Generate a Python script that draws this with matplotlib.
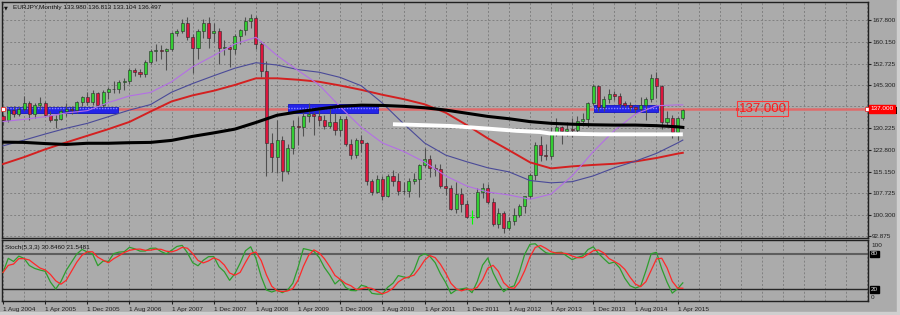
import matplotlib
matplotlib.use("Agg")
import matplotlib.pyplot as plt
import matplotlib.transforms as mtrans
from matplotlib.patches import Rectangle
import numpy as np
import pandas as pd

plt.rcParams['font.family'] = ['Liberation Sans', 'DejaVu Sans']

# ---------------- data ----------------
symbol = "EURJPY,Monthly"
months = pd.date_range("2004-08-01", "2015-05-01", freq="MS")

opens = [134.4, 133.3, 136.6, 135.3, 136.8, 139.0, 135.2, 138.3, 139.0, 134.9,
         133.1, 133.6, 136.4, 136.9, 136.5, 139.5, 141.1, 139.5, 142.5, 138.3,
         142.8, 143.8, 144.0, 146.3, 146.5, 150.4, 149.8, 149.2, 153.4, 157.1,
         157.3, 156.9, 157.8, 163.4, 164.0, 166.6, 161.9, 158.0, 163.9, 166.9,
         163.2, 164.0, 158.0, 158.4, 157.6, 162.2, 164.3, 167.3, 168.4, 159.4,
         150.0, 125.2, 120.5, 126.2, 115.4, 123.4, 131.0, 130.6, 134.6, 135.1,
         134.4, 133.2, 131.1, 132.5, 129.7, 133.4, 125.0, 121.0, 126.2, 125.1,
         111.9, 108.2, 112.6, 106.7, 113.6, 112.0, 108.4, 108.7, 112.2, 112.8,
         117.5, 119.6, 116.7, 116.2, 110.2, 109.5, 102.5, 107.7, 104.2, 99.6,
         99.6, 108.3, 109.6, 104.6, 97.0, 101.0, 95.8, 98.3, 100.1, 103.3,
         106.9, 114.2, 124.4, 121.0, 120.6, 128.3, 130.6, 129.2, 130.0, 129.7,
         132.8, 133.4, 139.0, 144.9, 137.7, 140.4, 142.0, 141.5, 139.0, 138.5,
         137.7, 136.9, 138.5, 140.6, 147.6, 144.9, 132.6, 134.0, 129.0, 133.980]
highs = [135.2, 137.3, 137.9, 137.5, 141.6, 139.7, 139.0, 141.0, 139.6, 136.4,
         134.9, 136.9, 138.9, 138.0, 139.9, 141.6, 143.0, 143.5, 142.9, 143.6,
         144.6, 146.7, 147.1, 147.6, 151.1, 151.3, 150.8, 154.0, 157.6, 159.6,
         159.2, 158.2, 163.8, 164.6, 168.0, 168.9, 162.8, 164.8, 168.0, 168.9,
         166.6, 164.9, 160.7, 159.0, 163.0, 164.8, 169.0, 169.9, 169.3, 160.4,
         153.6, 128.5, 133.0, 127.6, 124.8, 133.3, 134.3, 135.9, 139.2, 136.1,
         137.7, 134.8, 138.4, 135.6, 134.4, 134.4, 126.5, 127.0, 127.9, 125.6,
         112.8, 114.0, 113.9, 114.3, 115.9, 114.8, 111.6, 113.0, 114.9, 118.0,
         123.3, 121.0, 118.0, 117.8, 113.0, 110.6, 111.6, 109.5, 105.5, 101.9,
         109.6, 111.2, 111.0, 106.3, 102.7, 101.5, 99.6, 102.6, 104.2, 107.0,
         114.7, 125.4, 127.7, 124.9, 130.6, 134.0, 131.2, 132.5, 133.8, 134.4,
         135.5, 139.3, 145.7, 145.3, 141.4, 143.8, 143.2, 142.4, 139.8, 139.5,
         138.0, 141.2, 141.0, 149.1, 149.8, 145.3, 136.2, 134.9, 134.1, 136.813]
lows = [131.5, 132.6, 134.1, 134.6, 136.2, 133.1, 133.9, 136.6, 134.7, 132.6,
        130.3, 133.0, 134.6, 135.4, 135.7, 138.0, 138.3, 138.4, 137.6, 137.8,
        140.3, 142.5, 142.5, 143.5, 145.8, 148.4, 148.2, 148.2, 152.6, 153.5,
        154.3, 150.5, 157.2, 162.2, 163.4, 161.0, 149.5, 154.4, 161.6, 158.0,
        160.2, 152.4, 155.5, 151.5, 155.9, 159.6, 162.5, 165.0, 157.8, 147.9,
        113.6, 115.3, 114.8, 112.1, 114.4, 121.5, 124.5, 127.7, 132.3, 128.0,
        131.0, 129.9, 130.5, 128.0, 127.6, 124.3, 119.7, 120.0, 122.0, 110.5,
        107.3, 107.8, 105.4, 106.6, 110.4, 107.2, 107.7, 106.6, 111.0, 106.6,
        116.9, 113.3, 113.8, 109.5, 107.2, 101.9, 100.8, 101.4, 99.2, 97.0,
        99.1, 106.2, 103.9, 96.6, 95.6, 94.1, 95.1, 96.7, 99.5, 101.0,
        105.8, 112.5, 118.8, 119.2, 119.8, 127.7, 124.9, 127.7, 127.3, 128.4,
        131.1, 130.9, 138.5, 136.2, 136.2, 139.0, 140.2, 137.7, 137.6, 136.2,
        135.7, 136.0, 133.1, 139.5, 140.8, 130.2, 131.4, 126.9, 126.1, 133.104]
closes = [133.3, 136.6, 135.3, 136.8, 139.0, 135.2, 138.3, 139.0, 134.9, 133.1,
          133.6, 136.4, 136.9, 136.5, 139.5, 141.1, 139.5, 142.5, 138.3, 142.8,
          143.8, 144.0, 146.3, 146.5, 150.4, 149.8, 149.2, 153.4, 157.1, 157.3,
          156.9, 157.8, 163.4, 164.0, 166.6, 161.9, 158.0, 163.9, 166.9, 161.6,
          164.0, 158.0, 158.4, 157.6, 162.2, 164.3, 167.3, 168.4, 159.4, 150.0,
          125.2, 120.5, 126.2, 115.4, 123.4, 131.0, 130.6, 134.6, 135.1, 134.4,
          133.2, 131.1, 132.5, 129.7, 133.4, 125.0, 121.0, 126.2, 125.1, 111.9,
          108.2, 112.6, 106.7, 113.6, 112.0, 108.4, 108.7, 112.2, 112.8, 117.5,
          119.6, 116.7, 116.2, 110.2, 109.5, 102.5, 107.7, 104.2, 99.6, 99.6,
          108.3, 109.6, 104.6, 97.0, 101.0, 95.8, 98.3, 100.1, 103.3, 106.9,
          114.2, 124.4, 121.0, 120.6, 128.3, 130.6, 129.2, 130.0, 129.7, 132.8,
          133.4, 139.0, 144.9, 137.7, 140.4, 142.0, 141.5, 138.7, 138.5, 137.7,
          136.9, 138.5, 140.6, 147.6, 144.9, 132.6, 134.0, 129.0, 133.9, 136.497]

# moving averages (bar index, value)
ma_idx = list(range(0, 129, 4)) + [129]
ma_purple = [132.6, 133.4, 134.3, 135.6, 136.4, 139.2, 141.5, 142.7, 146.4, 151.6,
             155.5, 159.5, 161.8, 155.5, 150.3, 145.3, 137.7, 130.6, 125.2, 122.3,
             118.6, 113.8, 110.3, 108.2, 107.2, 105.7, 107.5, 113.8, 122.2, 129.5,
             135.2, 138.1, 138.4, 138.4]
ma_navy = [124.2, 126.2, 128.3, 130.3, 132.0, 134.3, 136.6, 138.5, 142.8, 145.8,
           148.5, 151.1, 153.0, 152.2, 150.6, 149.7, 147.9, 145.0, 139.0, 131.9,
           125.2, 121.0, 118.7, 116.6, 115.2, 112.2, 111.4, 111.8, 113.8, 116.6,
           118.9, 121.6, 125.2, 126.2]
ma_red = [117.9, 120.3, 123.0, 125.4, 127.7, 130.0, 132.5, 136.1, 139.6, 141.7,
          143.3, 145.3, 147.6, 147.6, 147.1, 146.4, 145.1, 143.6, 141.9, 140.4,
          138.6, 135.7, 131.4, 126.8, 122.7, 118.5, 116.4, 117.1, 117.6, 118.0,
          118.8, 120.0, 121.5, 121.8]
ma_black = [125.5, 125.4, 125.0, 124.7, 125.1, 125.1, 125.3, 125.4, 126.1, 127.5,
            128.7, 130.0, 132.3, 134.8, 136.0, 137.0, 137.9, 138.3, 138.2, 137.9,
            137.4, 136.6, 135.5, 134.4, 133.6, 132.6, 132.0, 131.7, 131.5, 131.4,
            131.4, 131.2, 130.8, 130.6]

white_idx = [74, 84.8, 91.1, 97.5, 101.9, 103.8, 113.3, 129]
white_val = [131.7, 131.1, 130.3, 129.4, 129.0, 128.5, 128.2, 128.2]

hline_level = 137.0
rect_start = [0.8, 54.0, 112.1]
rect_end = [21.8, 71.1, 124.2]
rect_top = [137.7, 138.7, 138.5]
rect_bottom = [135.7, 135.6, 136.0]

price_ticks = [167.800, 160.150, 152.725, 145.300, 137.875, 130.225,
               122.800, 115.150, 107.725, 100.300, 92.875]
hidden_tick = 137.875          # covered by the level label in the chart
stoch_levels = [80, 20]
stoch_params = (5, 3, 3)
stoch_shown = (30.8460, 21.5481)   # values printed in the indicator header

# ---------------- style ----------------
BG = '#ABABAB'
GRID = '#808080'
UP = '#32CD32'
DN = '#DC143C'
WICK = '#505050'
EDGE = '#2a2a2a'
FS = 4.6

W, H = 900, 315
fig = plt.figure(figsize=(9, 3.15), dpi=100, facecolor=BG)

def fx(x):
    return x / W

def fy(y):
    return 1 - y / H

XL = (-0.19, 164.14)
ax = fig.add_axes([fx(2), fy(238), 866 / W, 236 / H])
ax.set_facecolor(BG)
ax.set_xlim(*XL)
ax.set_ylim(92.29, 174.03)

ax2 = fig.add_axes([fx(2), fy(301), 866 / W, 61 / H])
ax2.set_facecolor(BG)
ax2.set_xlim(*XL)
ax2.set_ylim(0, 103.8)

for a in (ax, ax2):
    for s in a.spines.values():
        s.set_color('#202020')
        s.set_linewidth(1.0)
    for g in range(0, 165, 4):
        a.axvline(g, color=GRID, lw=0.7, ls=(0, (2, 2)), zorder=1)

for v in price_ticks:
    ax.axhline(v, color=GRID, lw=0.7, ls=(0, (2, 2)), zorder=1)

idx = np.arange(len(months))
o = np.array(opens); h = np.array(highs); l = np.array(lows); c = np.array(closes)

# horizontal level and rectangles
ax.axhline(hline_level, color='#e06a6a', lw=1.8, zorder=2)
for s0, s1, top, bot in zip(rect_start, rect_end, rect_top, rect_bottom):
    ax.add_patch(Rectangle((s0, bot), s1 - s0, top - bot, facecolor='#2424e8',
                           edgecolor='#1515c0', lw=0.6, zorder=2.5))
    ax.hlines(hline_level + 0.3, s0, s1, color='#8a8aff', lw=1.0,
              ls=(0, (1, 1)), zorder=2.6)

# candles
up = c > o
dn = c < o
eq = c == o
ax.vlines(idx[~eq], l[~eq], h[~eq], color=WICK, lw=0.8, zorder=3)
ax.bar(idx[up], c[up] - o[up], bottom=o[up], width=0.58, color=UP,
       edgecolor=EDGE, lw=0.4, zorder=3.5)
ax.bar(idx[dn], o[dn] - c[dn], bottom=c[dn], width=0.58, color=DN,
       edgecolor=EDGE, lw=0.4, zorder=3.5)
ax.vlines(idx[eq], l[eq], h[eq], color='#00ff00', lw=0.8, zorder=3.5)
ax.hlines(c[eq], idx[eq] - 0.3, idx[eq] + 0.3, color='#00ff00', lw=0.8, zorder=3.5)

# moving averages
ax.plot(ma_idx, ma_red, color='#d42020', lw=1.4, zorder=4)
ax.plot(ma_idx, ma_navy, color='#4a4a98', lw=0.8, zorder=4)
ax.plot(ma_idx, ma_purple, color='#b46ee6', lw=0.8, zorder=4)
ax.plot(ma_idx, ma_black, color='#000000', lw=2.2, zorder=4.2)
ax.plot(white_idx, white_val, color='#ffffff', lw=2.8, zorder=4.3,
        solid_capstyle='butt')

# level handles and label
ax.plot([0.05, 163.9], [hline_level, hline_level], ls='none', marker='s', ms=2.4,
        mfc='white', mec='#e03030', mew=0.6, zorder=5, clip_on=False)
ax.plot([139.3], [hline_level], ls='none', marker='s', ms=2.0, mfc=BG,
        mec='#e03030', mew=0.6, zorder=5)
ax.text(139.6, hline_level, f"{hline_level:.3f}", color='#ff1a1a', fontsize=9.5,
        ha='left', va='center', zorder=6,
        bbox=dict(boxstyle='square,pad=0.12', fc='none', ec='#ff3838', lw=0.8))

# right price axis
ax.yaxis.tick_right()
ax.set_yticks(price_ticks)
ax.set_yticklabels(["" if v == hidden_tick else f"{v:.3f}" for v in price_ticks])
ax.tick_params(axis='y', length=2, pad=1.0, labelsize=FS, colors='#202020')
ax.set_xticks([])

tr = mtrans.blended_transform_factory(ax.transAxes, ax.transData)
# bid-price marker (mostly hidden behind the level label)
ax.add_patch(Rectangle((1.0012, c[-1] - 1.3), 0.0325, 2.6, transform=tr,
                       facecolor='black', edgecolor='none', zorder=7,
                       clip_on=False))
ax.text(1.0025, hline_level, f"{hline_level:.3f}", transform=tr, color='white',
        fontsize=FS, ha='left', va='center', zorder=8, clip_on=False,
        bbox=dict(boxstyle='square,pad=0.2', fc='#ff0000', ec='#ff0000'))

# header
fig.text(fx(4), fy(7.5), '\u25bc', fontsize=3.6, family='DejaVu Sans',
         va='center', ha='left', color='#101010')
fig.text(fx(13), fy(7.5),
         f"{symbol} {o[-1]:.3f} {h[-1]:.3f} {l[-1]:.3f} {c[-1]:.3f}",
         fontsize=FS, va='center', ha='left', color='#101010')

# ---------------- stochastic ----------------
kp, dp, slow = stoch_params
hh = pd.Series(h).rolling(kp, min_periods=1).max()
ll = pd.Series(l).rolling(kp, min_periods=1).min()
num = (pd.Series(c) - ll).rolling(slow, min_periods=1).sum()
den = (hh - ll).rolling(slow, min_periods=1).sum()
k_line = 100 * num / den
d_line = k_line.rolling(dp, min_periods=1).mean()

ax2.axhline(stoch_levels[0], color='#5e5e5e', lw=1.5, zorder=2)
ax2.axhline(stoch_levels[1], color='#262626', lw=1.0, zorder=2)
ax2.plot(idx, k_line, color='#2e9e2e', lw=0.9, zorder=3)
ax2.plot(idx, d_line, color='#ff2828', lw=0.9, zorder=3)

ax2.set_yticks([])
ax2.set_xticks(idx[::8])
labels = [f"1 {m:%b %Y}" for m in months[::8]]
ax2.set_xticklabels(labels, ha='left')
ax2.tick_params(axis='x', length=2.5, pad=1.5, labelsize=FS, colors='#202020')
for t in ax2.get_xticklabels():
    t.set_horizontalalignment('left')

fig.text(fx(5), fy(247.3),
         f"Stoch({kp},{dp},{slow}) {stoch_shown[0]:.4f} {stoch_shown[1]:.4f}",
         fontsize=FS, va='center', ha='left', color='#101010')

tr2 = mtrans.blended_transform_factory(ax2.transAxes, ax2.transData)
ax2.text(1.0035, 94, "100", transform=tr2, fontsize=FS, va='center', ha='left',
         color='#202020', clip_on=False)
ax2.text(1.0035, 6, "0", transform=tr2, fontsize=FS, va='center', ha='left',
         color='#202020', clip_on=False)
for lv in stoch_levels:
    ax2.text(1.0035, lv, f"{lv}", transform=tr2, fontsize=FS, va='center',
             ha='left', color='#e0e0e0', clip_on=False,
             bbox=dict(boxstyle='square,pad=0.15', fc='black', ec='black'))

# window frame strips
fig.add_artist(Rectangle((fx(897), 0), 3 / W, 1, transform=fig.transFigure,
                         color='#cfcfcf', zorder=0))
fig.add_artist(Rectangle((0, 0), 1, 3 / H, transform=fig.transFigure,
                         color='#cfcfcf', zorder=0))

fig.savefig("out.png", dpi=100, facecolor=BG)
